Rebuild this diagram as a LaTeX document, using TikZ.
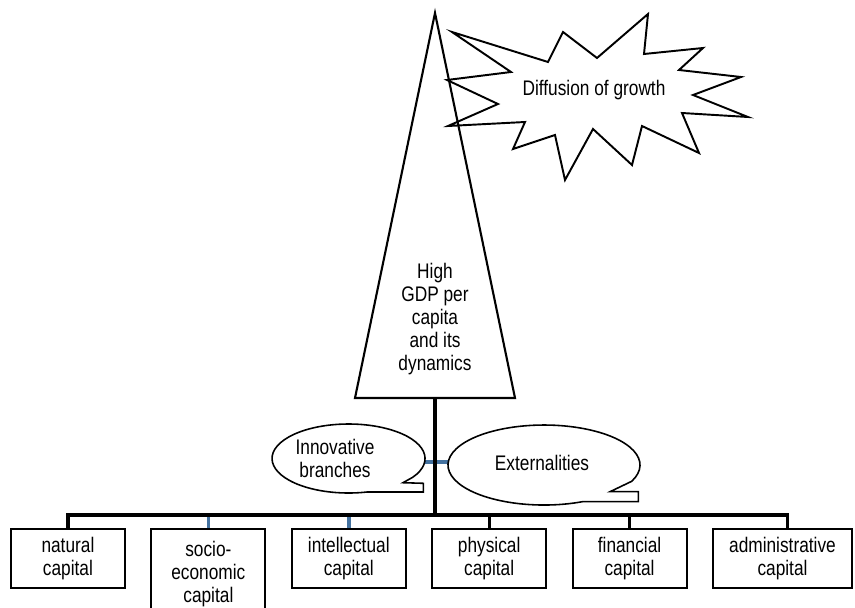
\documentclass[tikz,border=0pt]{standalone}
\usepackage{fontspec}
\setmainfont{Liberation Sans}[FakeStretch=0.82]
\usepackage{tikz}
\usetikzlibrary{positioning}
\definecolor{linkblue}{RGB}{68,114,160}
\tikzstyle{capbox}=[rectangle, draw=black, line width=1.1pt, minimum width=2.28cm, minimum height=1.18cm, align=center, inner sep=1pt]
\tikzstyle{bubble}=[draw=black, line width=0.9pt, fill=white]
\tikzstyle{burst}=[draw=black, line width=1.1pt, line join=miter]
\tikzstyle{stem}=[draw=black, line width=2.1pt]
\tikzstyle{twig}=[draw=linkblue, line width=2pt]

\begin{document}
\begin{tikzpicture}[x=0.02cm, y=-0.02cm, every node/.style={font=\fontsize{12}{13}\selectfont}]
            \useasboundingbox (0,0) rectangle (855,608);
            %tree crown
            \coordinate (apex) at (435,13);
            \coordinate (baseL) at (355,398);
            \coordinate (baseR) at (515,398);
            \draw[line width=1.2pt, line join=miter] (apex) -- (baseL) -- (baseR) -- cycle;
            \node[align=center](gdp) at (435,319){High\\GDP per\\capita\\and its\\dynamics};
            % explosion
            \draw[burst] (452,32) -- (548,62) -- (563,32) -- (597,58) -- (648,14) -- (644,54)
                -- (703,48) -- (679,70) -- (741,77) -- (693,95) -- (748,117) -- (682,113)
                -- (699,153) -- (642,126) -- (632,165) -- (593,129) -- (565,180) -- (555,135)
                -- (513,149) -- (525,122) -- (448,126) -- (498,104) -- (447,80) -- (511,72) -- cycle;
            \node(growth) at (594,90){Diffusion of growth};
            % the capitals
            \node[capbox, anchor=north west](natural) at (10,528){natural\\capital};
            \node[capbox, right=0.49cm of natural.north east, anchor=north west, minimum height=1.8cm](socio){socio-\\economic\\capital};
            \node[capbox, right=0.49cm of socio.north east, anchor=north west](intel){intellectual\\capital};
            \node[capbox, right=0.49cm of intel.north east, anchor=north west](phys){physical\\capital};
            \node[capbox, right=0.49cm of phys.north east, anchor=north west](fin){financial\\capital};
            \node[capbox, right=0.49cm of fin.north east, anchor=north west, minimum width=2.78cm](admin){administrative\\capital};
            \coordinate (junction) at (435,515);
            % blue branches
            \coordinate (innovR) at (425,462);
            \coordinate (externL) at (448,462);
            \draw[twig] (innovR) -- (externL);
            \foreach \n in {socio,intel}{
                \draw[twig] (\n.north) -- (\n.north |- junction);
            }
            % callouts
            \draw[bubble] (412.7,477.3) arc[start angle=33, end angle=-284, x radius=76.5, y radius=34.5]
                -- (423.3,492) -- (423.3,483.3) -- (403,482.7) -- cycle;
            \node[align=center](innov) at (335,458.5){Innovative\\branches};
            \draw[bubble] (631.7,481.3) arc[start angle=24, end angle=-294, x radius=96, y radius=40]
                -- (638.3,501.7) -- (638.3,491.7) -- (610,491.7) -- cycle;
            \node(extern) at (542,463){Externalities};
            % trunk and roots
            \draw[stem] (435,398) -- (junction);
            \draw[stem, line width=1.9pt] (natural.north) |- (junction) -| ([xshift=0.1cm]admin.north);
            \foreach \n in {phys,fin}{
                \draw[stem, line width=1.9pt] (\n.north) -- (\n.north |- junction);
            }
        \end{tikzpicture}
\end{document}
